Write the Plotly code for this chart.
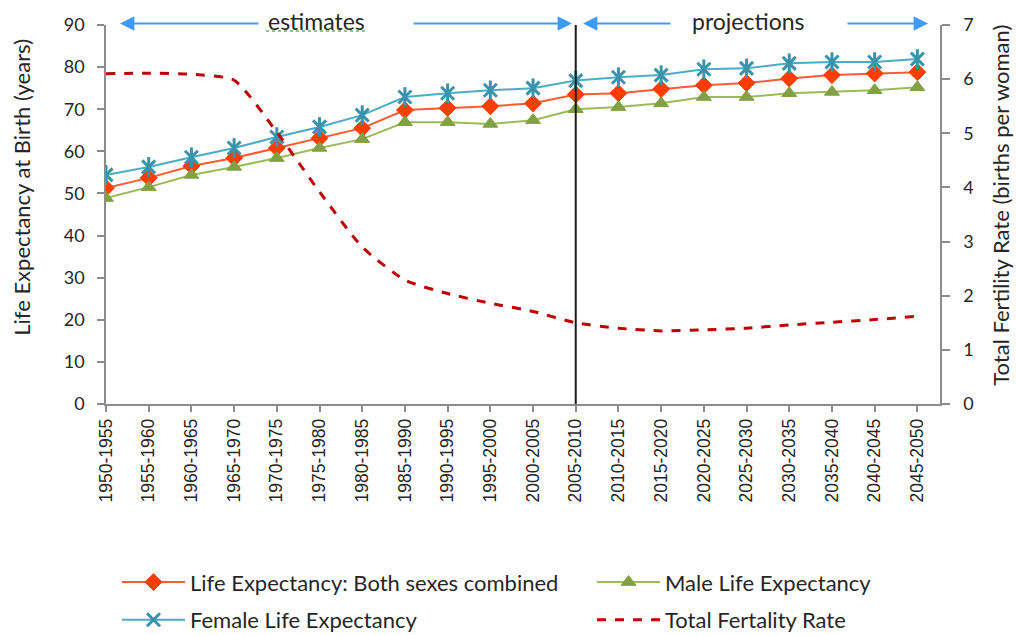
import plotly.graph_objects as go

# Five-year periods, 1950-1955 to 2045-2050
periods = ["1950-1955", "1955-1960", "1960-1965", "1965-1970", "1970-1975",
           "1975-1980", "1980-1985", "1985-1990", "1990-1995", "1995-2000",
           "2000-2005", "2005-2010", "2010-2015", "2015-2020", "2020-2025",
           "2025-2030", "2030-2035", "2035-2040", "2040-2045", "2045-2050"]

# Life expectancy at birth (years)
life_both = [51.3, 53.7, 56.5, 58.4, 60.8, 63.1, 65.5, 69.8, 70.3, 70.7,
             71.4, 73.5, 73.8, 74.8, 75.7, 76.2, 77.3, 78.1, 78.5, 78.8]
life_male = [48.9, 51.5, 54.4, 56.3, 58.4, 60.8, 62.9, 66.9, 66.9, 66.5,
             67.4, 70.0, 70.5, 71.4, 72.9, 72.9, 73.8, 74.1, 74.5, 75.2]
life_female = [54.4, 56.3, 58.6, 60.8, 63.4, 65.8, 68.6, 72.9, 73.8, 74.5,
               75.0, 76.8, 77.6, 78.1, 79.5, 79.7, 80.9, 81.2, 81.2, 81.9]

# Total fertility rate (births per woman)
fertility = [6.10, 6.11, 6.09, 5.98, 5.02, 3.92, 2.90, 2.29, 2.04, 1.86,
             1.71, 1.50, 1.40, 1.35, 1.37, 1.40, 1.46, 1.51, 1.56, 1.62]

split_period = "2005-2010"
left_ticks = list(range(0, 100, 10))
right_ticks = list(range(0, 8))

FONT = "Lato"
TXT = "#262626"
AXC = "#8c8c8c"

# plot-area geometry in pixels (used to place header labels)
PLOT_L, PLOT_W = 106, 834
PLOT_B, PLOT_H = 404.5, 379.5


def px_x(px):
    return (px - PLOT_L) / PLOT_W


def px_y(py):
    return (PLOT_B - py) / PLOT_H


fig = go.Figure()

fig.add_trace(go.Scatter(
    x=periods, y=life_both, name="Life Expectancy: Both sexes combined",
    mode="lines+markers", legend="legend", legendgroup="both",
    line=dict(color="#FF5A36", width=2),
    marker=dict(symbol="diamond", size=13, color="#FF3D00",
                line=dict(color="#FF3D00", width=1)),
))
fig.add_trace(go.Scatter(
    x=periods, y=life_male, name="Male Life Expectancy",
    mode="lines+markers", legend="legend2", legendgroup="male",
    line=dict(color="#9BBB59", width=2),
    marker=dict(symbol="triangle-up", size=13, color="#82A044",
                line=dict(color="#82A044", width=1)),
))
fig.add_trace(go.Scatter(
    x=periods, y=life_female, name="Female Life Expectancy",
    mode="lines+markers", legend="legend", legendgroup="female",
    line=dict(color="#4BACC6", width=2),
    marker=dict(symbol="x-thin-open", size=13, color="#3A93AB",
                line=dict(color="#3A93AB", width=3)),
))
# vertical stroke completing the six-armed star marker
fig.add_trace(go.Scatter(
    x=periods, y=life_female, mode="markers", showlegend=False,
    hoverinfo="skip", legendgroup="female",
    marker=dict(symbol="line-ns-open", size=14, color="#3A93AB",
                line=dict(color="#3A93AB", width=3)),
))
fig.add_trace(go.Scatter(
    x=periods, y=fertility, name="Total Fertality Rate",
    mode="lines", legend="legend2", legendgroup="tfr", yaxis="y2",
    line=dict(color="#C00000", width=3, dash="dash", shape="spline",
              smoothing=0.6),
))

# estimates / projections divider
fig.add_shape(type="line", xref="x", yref="y", x0=split_period,
              x1=split_period, y0=0, y1=90,
              line=dict(color="#1a1a1a", width=2))

# header labels with double arrows
ARROW = "#3D9BF5"


def arrow(tip_px, tail_px):
    fig.add_annotation(xref="paper", yref="paper", x=px_x(tip_px),
                       y=px_y(23.5), ax=tail_px - tip_px, ay=0,
                       axref="pixel", ayref="pixel", text="",
                       showarrow=True, arrowhead=2, arrowsize=1.6,
                       arrowwidth=1.8, arrowcolor=ARROW)


arrow(120, 260)
arrow(572, 412)
arrow(583, 672)
arrow(928, 846)

fig.add_annotation(xref="paper", yref="paper", x=px_x(316), y=px_y(21),
                   xanchor="center", yanchor="middle",
                   text="estimates", showarrow=False,
                   font=dict(family=FONT, size=23, color=TXT))
fig.add_annotation(xref="paper", yref="paper", x=px_x(748), y=px_y(21),
                   xanchor="center", yanchor="middle",
                   text="projections", showarrow=False,
                   font=dict(family=FONT, size=23, color=TXT))
fig.add_shape(type="line", xref="paper", yref="paper",
              x0=px_x(266), x1=px_x(368), y0=px_y(31), y1=px_y(31),
              line=dict(color="#5DB85D", width=1.5, dash="dot"))

# axis titles
fig.add_annotation(xref="paper", yref="paper", x=px_x(22), y=px_y(188),
                   text="Life Expectancy at Birth (years)",
                   textangle=-90, showarrow=False, xanchor="center",
                   yanchor="middle", font=dict(family=FONT, size=22, color=TXT))
fig.add_annotation(xref="paper", yref="paper", x=px_x(1001), y=px_y(206),
                   text="Total Fertility Rate (births per woman)",
                   textangle=-90, showarrow=False, xanchor="center",
                   yanchor="middle", font=dict(family=FONT, size=22, color=TXT))

axis_common = dict(showline=True, linecolor=AXC, linewidth=1.5, ticks="outside",
                   tickcolor=AXC, tickwidth=1.5, showgrid=False, zeroline=False,
                   automargin=False)

legend_common = dict(orientation="v", xanchor="left", yanchor="top",
                     y=px_y(562), traceorder="grouped", tracegroupgap=6,
                     itemwidth=63, font=dict(family=FONT, size=22, color=TXT),
                     bgcolor="rgba(0,0,0,0)")

fig.update_layout(
    width=1016, height=635,
    margin=dict(l=PLOT_L, r=1016 - PLOT_L - PLOT_W, t=25, b=635 - PLOT_B,
                autoexpand=False),
    plot_bgcolor="white", paper_bgcolor="white",
    xaxis=dict(type="category", categoryorder="array", categoryarray=periods,
               range=[0, 19.53], tickangle=-90, ticklen=6,
               tickfont=dict(family="Liberation Sans", size=17.5, color=TXT),
               **axis_common),
    yaxis=dict(range=[0, 90], tickvals=left_ticks, ticklen=7,
               ticklabelstandoff=9,
               tickfont=dict(family=FONT, size=18, color=TXT), **axis_common),
    yaxis2=dict(range=[0, 7], tickvals=right_ticks, overlaying="y",
                side="right", ticklen=8, ticklabelstandoff=10,
                tickfont=dict(family=FONT, size=18, color=TXT), **axis_common),
    legend=dict(x=px_x(117), **legend_common),
    legend2=dict(x=px_x(592), **legend_common),
)

fig.write_html("out.html")
